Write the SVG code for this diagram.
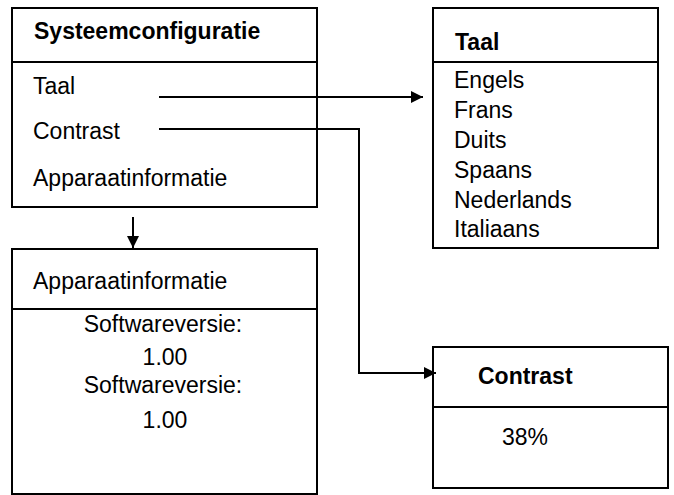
<svg xmlns="http://www.w3.org/2000/svg" width="674" height="495" viewBox="0 0 674 495">
<defs>
<marker id="ah" viewBox="0 0 10 10" refX="10" refY="5" markerWidth="14" markerHeight="12" markerUnits="userSpaceOnUse" orient="auto"><path d="M0,0 L10,5 L0,10 z" fill="#000"/></marker>
<style>
.box{fill:#fff;stroke:#000;stroke-width:2}
.t{font-family:"Liberation Sans",Arial,sans-serif;font-size:23px;fill:#000}
.b{font-weight:bold}
.c{text-anchor:middle}
.con{fill:none;stroke:#000;stroke-width:2}
</style>
</defs>
<rect width="674" height="495" fill="#fff"/>
<g id="systeemconfiguratie">
<rect class="box" x="12" y="8" width="305" height="199"/>
<line class="box" x1="12" y1="62" x2="317" y2="62"/>
<text class="t b" x="34" y="39">Systeemconfiguratie</text>
<text class="t" x="33" y="94">Taal</text>
<text class="t" x="33" y="139">Contrast</text>
<text class="t" x="33" y="186">Apparaatinformatie</text>
</g>
<g id="apparaatinformatie">
<rect class="box" x="12" y="249" width="305" height="245"/>
<line class="box" x1="12" y1="309" x2="317" y2="309"/>
<text class="t" x="33" y="289">Apparaatinformatie</text>
<text class="t c" x="163" y="332">Softwareversie:</text>
<text class="t c" x="165" y="365">1.00</text>
<text class="t c" x="163" y="393">Softwareversie:</text>
<text class="t c" x="165" y="428">1.00</text>
</g>
<g id="taal">
<rect class="box" x="433" y="8" width="225" height="240"/>
<line class="box" x1="433" y1="62" x2="658" y2="62"/>
<text class="t b" x="455" y="50">Taal</text>
<text class="t" x="454" y="88">Engels</text>
<text class="t" x="454" y="118">Frans</text>
<text class="t" x="454" y="148">Duits</text>
<text class="t" x="454" y="178">Spaans</text>
<text class="t" x="454" y="208">Nederlands</text>
<text class="t" x="454" y="237">Italiaans</text>
</g>
<g id="contrast">
<rect class="box" x="433" y="347" width="235" height="141"/>
<line class="box" x1="433" y1="407" x2="668" y2="407"/>
<text class="t b" x="478" y="384">Contrast</text>
<text class="t" x="502" y="445">38%</text>
</g>
<g id="connectors">
<path class="con" d="M159,97 L423,97" marker-end="url(#ah)"/>
<path class="con" d="M159,129 L359,129 L359,373 L436,373" marker-end="url(#ah)"/>
<path class="con" d="M133,217 L133,248" marker-end="url(#ah)"/>
</g>
</svg>
